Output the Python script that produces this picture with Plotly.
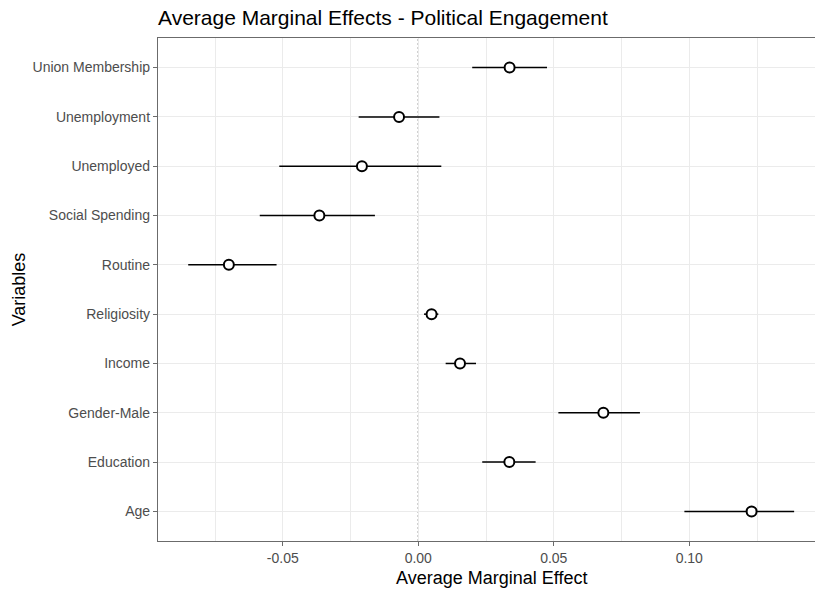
import plotly.graph_objects as go

# Average marginal effects with 95% confidence intervals
variables = ["Age", "Education", "Gender-Male", "Income", "Religiosity",
             "Routine", "Social Spending", "Unemployed", "Unemployment",
             "Union Membership"]
estimate = [0.1230, 0.0336, 0.0683, 0.0154, 0.0049,
            -0.0699, -0.0365, -0.0208, -0.0071, 0.0337]
ci_low = [0.0982, 0.0236, 0.0517, 0.0101, 0.0021,
          -0.0849, -0.0585, -0.0513, -0.0220, 0.0199]
ci_high = [0.1387, 0.0433, 0.0818, 0.0213, 0.0074,
           -0.0523, -0.0160, 0.0085, 0.0078, 0.0475]

x_ticks = [-0.05, 0.0, 0.05, 0.10]
x_tick_text = ["-0.05", "0.00", "0.05", "0.10"]
x_minor = [-0.075, -0.025, 0.025, 0.075, 0.125]

FONT = "Liberation Sans, Arial, sans-serif"
GRID = "#EBEBEB"
AXIS = "#6b6b6b"

ypos = list(range(len(variables)))

fig = go.Figure()
fig.add_trace(go.Scatter(
    x=estimate, y=ypos, mode="markers",
    marker=dict(size=10, color="white", line=dict(color="black", width=2)),
    error_x=dict(type="data", symmetric=False,
                 array=[h - e for h, e in zip(ci_high, estimate)],
                 arrayminus=[e - l for e, l in zip(estimate, ci_low)],
                 color="black", thickness=1.5, width=0),
    showlegend=False, cliponaxis=False,
))

# dotted reference line at zero
fig.add_shape(type="line", x0=0, x1=0, xref="x", y0=0, y1=1, yref="paper",
              line=dict(color="#3a3a3a", width=1, dash="2px,2px"), layer="between")

fig.update_layout(
    width=815, height=589,
    margin=dict(l=158, r=0, t=38, b=48),
    plot_bgcolor="white", paper_bgcolor="white",
    font=dict(family=FONT, color="#4d4d4d", size=14),
    title=dict(text="Average Marginal Effects - Political Engagement",
               x=158 / 815, xanchor="left", y=1 - 18 / 589, yanchor="middle",
               font=dict(size=21, color="black", family=FONT)),
    xaxis=dict(
        range=[-0.09605, 0.1464],
        tickvals=x_ticks, ticktext=x_tick_text,
        showgrid=True, gridcolor=GRID, gridwidth=1,
        minor=dict(tickvals=x_minor, showgrid=True, gridcolor=GRID, gridwidth=1),
        zeroline=False,
        showline=True, linecolor=AXIS, linewidth=1.3, mirror=True,
        ticks="outside", ticklen=4, tickcolor=AXIS, tickwidth=1,
        tickfont=dict(size=14, color="#4d4d4d"),
    ),
    yaxis=dict(
        range=[-0.6, 9.6],
        tickvals=ypos, ticktext=variables,
        showgrid=True, gridcolor=GRID, gridwidth=1,
        zeroline=False,
        showline=True, linecolor=AXIS, linewidth=1.3,
        ticks="outside", ticklen=4, tickcolor=AXIS, tickwidth=1,
        tickfont=dict(size=14, color="#4d4d4d"),
        title=dict(text="Variables", font=dict(size=18, color="black"), standoff=2),
    ),
)

# x-axis title centred on the full panel
fig.add_annotation(text="Average Marginal Effect", xref="paper", yref="paper",
                   x=(491 - 158) / 657, y=-37 / 503, xanchor="center", yanchor="middle",
                   showarrow=False, font=dict(size=18, color="black", family=FONT))

fig.write_html("out.html")
